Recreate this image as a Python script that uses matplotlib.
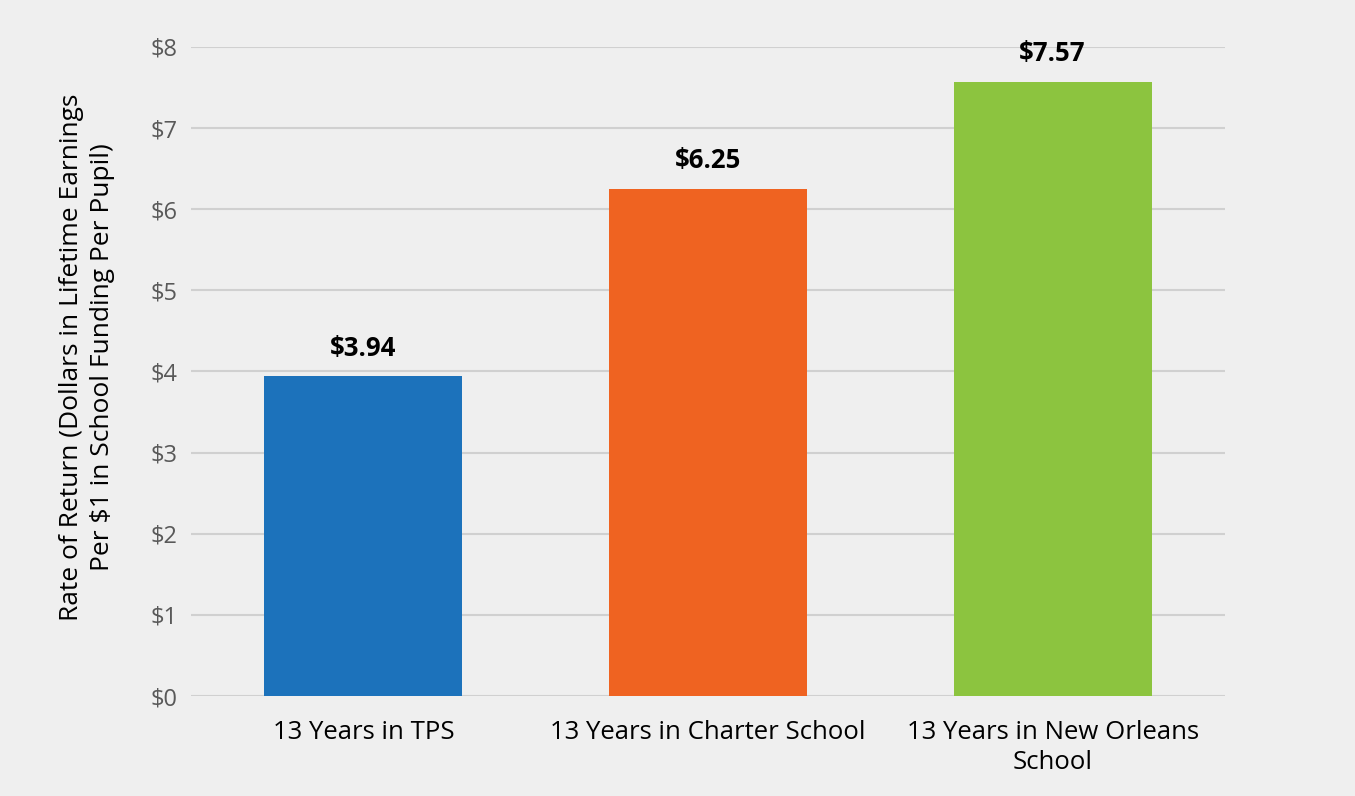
import matplotlib.pyplot as plt

plt.rcParams['font.family'] = ['Open Sans', 'DejaVu Sans']

categories = ['13 Years in TPS', '13 Years in Charter School', '13 Years in New Orleans\nSchool']
values = [3.94, 6.25, 7.57]
colors = ['#1c72bb', '#ef6321', '#8cc43f']
yticks = [0, 1, 2, 3, 4, 5, 6, 7, 8]

bg = '#efefef'
fig = plt.figure(figsize=(13.55, 7.96), dpi=100, facecolor=bg)
ax = fig.add_axes([0.141, 0.1256, 0.763, 0.8154], facecolor=bg)

x = range(len(categories))
bars = ax.bar(x, values, width=0.575, color=colors, zorder=3)

for b, v in zip(bars, values):
    ax.text(b.get_x() + b.get_width() / 2, v + 0.18, f'${v:.2f}',
            ha='center', va='bottom', fontsize=18.5, fontweight='bold', color='black')

ax.set_xlim(-0.5, 2.5)
ax.set_ylim(0, 8)
ax.set_yticks(yticks)
ax.set_yticklabels([f'${t}' for t in yticks], fontsize=17, color='#595959')
ax.set_xticks(list(x))
ax.set_xticklabels(categories, fontsize=18.5, color='black', linespacing=1.3)
ax.tick_params(axis='both', length=0)
ax.tick_params(axis='y', pad=10)
ax.tick_params(axis='x', pad=17)
ax.grid(axis='y', color='#d0d0d0', linewidth=1.5, zorder=0)
for s in ax.spines.values():
    s.set_visible(False)

ax.set_ylabel('Rate of Return (Dollars in Lifetime Earnings\nPer $1 in School Funding Per Pupil)',
              fontsize=19, color='black', linespacing=1.3)
ax.yaxis.set_label_coords(-0.074, 0.522)

fig.savefig('out.png', dpi=100, facecolor=bg)
